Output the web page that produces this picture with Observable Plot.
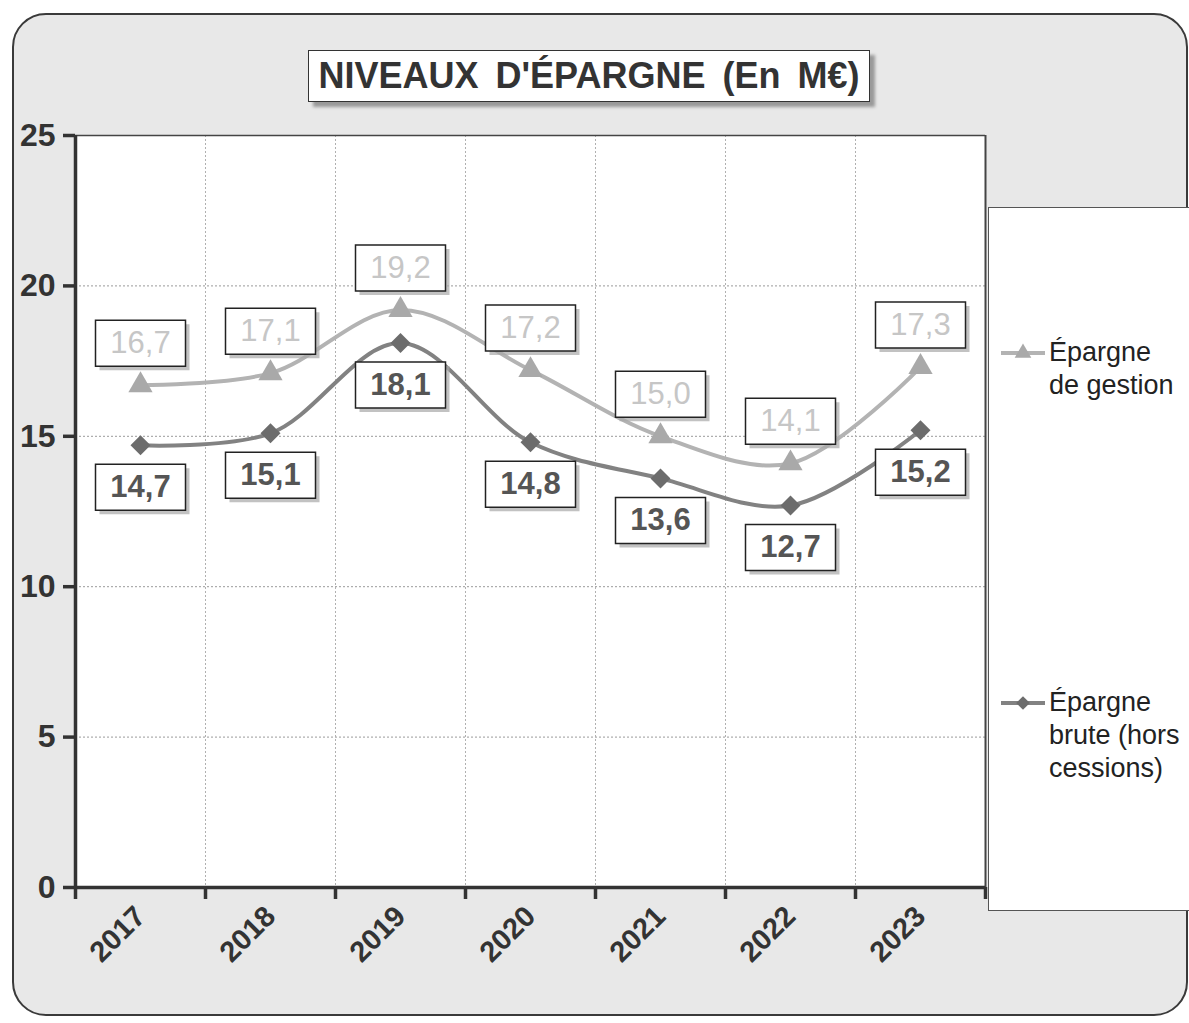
<!DOCTYPE html>
<html><head><meta charset="utf-8">
<script src="https://cdn.jsdelivr.net/npm/d3@7"></script>
<script src="https://cdn.jsdelivr.net/npm/@observablehq/plot@0.6"></script>
<style>
body{margin:0;background:#fff;font-family:"Liberation Sans",Arial,sans-serif;}
#wrap{position:relative;width:1189px;height:1023px;overflow:hidden;}
#bg{position:absolute;left:12px;top:13px;width:1172px;height:999px;border:2px solid #3a3a3a;border-radius:34px;background:#e8e8e8;}
#title{position:absolute;left:308px;top:50px;width:560px;height:50px;background:#fff;border:1.5px solid #333;box-shadow:5px 5px 3px #9a9a9a;font-weight:bold;font-size:36px;color:#333;display:flex;align-items:center;justify-content:center;word-spacing:7px;white-space:nowrap;}
#legend{position:absolute;left:988px;top:207px;width:230px;height:704px;background:#fff;border:1.5px solid #555;box-sizing:border-box;}
.entry{position:absolute;left:10px;display:flex;align-items:flex-start;}
.entry svg{flex:none;margin-top:0px;}
.entry .lab{font-size:27px;line-height:33px;color:#222;margin-left:2px;}
#chart{position:absolute;left:0;top:0;}
</style>
</head><body>
<div id="wrap">
  <div id="bg"></div>
  <div id="chart"></div>
  <div id="title"></div>
  <div id="legend"></div>
</div>
<script>
const years = ["2017","2018","2019","2020","2021","2022","2023"];
const gestion = [16.7, 17.1, 19.2, 17.2, 15.0, 14.1, 17.3];
const brute = [14.7, 15.1, 18.1, 14.8, 13.6, 12.7, 15.2];
const yTicks = [0, 5, 10, 15, 20, 25];
const titleText = "NIVEAUX D'ÉPARGNE (En M€)";
const seriesNames = [["Épargne", "de gestion"], ["Épargne", "brute (hors", "cessions)"]];
const colGestionLine = "#b3b3b3", colGestionDot = "#a9a9a9", colGestionText = "#c6c6c6";
const colBruteLine = "#828282", colBruteDot = "#6c6c6c", colBruteText = "#555";

const rowsG = years.map((y, i) => ({i, year: y, v: gestion[i]}));
const rowsB = years.map((y, i) => ({i, year: y, v: brute[i]}));
const bounds = d3.range(years.length + 1).map(k => k - 0.5);
const fmt = v => v.toFixed(1).replace(".", ",");

const boxSymbol = {draw(ctx) { ctx.rect(-45, -23, 90, 46); }};

function labels(rows, dy, color, weight) {
  return [
    Plot.dot(rows, {x: "i", y: "v", dy: dy + 4, dx: 4, symbol: boxSymbol, fill: "#a8a8a8", fillOpacity: 0.7}),
    Plot.dot(rows, {x: "i", y: "v", dy, symbol: boxSymbol, fill: "white", stroke: "#222", strokeWidth: 1.5}),
    Plot.text(rows, {x: "i", y: "v", dy, text: d => fmt(d.v), fontSize: 31, fill: color, fontWeight: weight})
  ];
}

const chart = Plot.plot({
  width: 1189, height: 1023,
  marginLeft: 75, marginRight: 204, marginTop: 135, marginBottom: 136,
  style: {background: "transparent", fontFamily: "'Liberation Sans', Arial, sans-serif", overflow: "visible"},
  x: {domain: [bounds[0], bounds[bounds.length - 1]], axis: null, label: null},
  y: {domain: [0, 25], axis: null, label: null},
  marks: [
    Plot.frame({fill: "white", stroke: null}),
    Plot.ruleY(yTicks.slice(1, -1), {stroke: "#9a9a9a", strokeDasharray: "2,2", strokeWidth: 1}),
    Plot.ruleX(bounds.slice(1, -1), {stroke: "#b0b0b0", strokeDasharray: "2,2", strokeWidth: 1}),
    Plot.ruleY([25], {stroke: "#444", strokeWidth: 1.5}),
    Plot.ruleX([bounds[bounds.length - 1]], {stroke: "#444", strokeWidth: 2}),
    Plot.axisY({ticks: yTicks, tickSize: 12, tickPadding: 8, fontSize: 32, fontWeight: "bold", color: "#333", strokeWidth: 3.5, tickFormat: d => String(d), label: null}),
    Plot.axisX({ticks: bounds, tickSize: 12, tickFormat: () => "", color: "#333", strokeWidth: 3.5, label: null}),
    Plot.axisX({ticks: d3.range(years.length), tickSize: 0, tickPadding: 24, tickRotate: -45, fontSize: 29, fontWeight: "bold", color: "#333", tickFormat: i => years[i], label: null}),
    Plot.ruleX([bounds[0]], {stroke: "#333", strokeWidth: 3.5}),
    Plot.ruleY([0], {stroke: "#333", strokeWidth: 3.5}),
    Plot.line(rowsG, {x: "i", y: "v", stroke: colGestionLine, strokeWidth: 4, curve: "catmull-rom"}),
    Plot.line(rowsB, {x: "i", y: "v", stroke: colBruteLine, strokeWidth: 4, curve: "catmull-rom"}),
    Plot.dot(rowsG, {x: "i", y: "v", symbol: "triangle", r: 9, fill: colGestionDot}),
    Plot.dot(rowsB, {x: "i", y: "v", symbol: "diamond2", r: 9, fill: colBruteDot}),
    ...labels(rowsG, -42, colGestionText, "normal"),
    ...labels(rowsB, 42, colBruteText, "bold")
  ]
});
document.getElementById("chart").appendChild(chart);
document.getElementById("title").textContent = titleText;

// legend
const leg = document.getElementById("legend");
const legendDefs = [
  {lines: seriesNames[0], line: colGestionLine, dot: colGestionDot, sym: d3.symbolTriangle, top: 128},
  {lines: seriesNames[1], line: colBruteLine, dot: colBruteDot, sym: d3.symbolDiamond2, top: 478}
];
legendDefs.forEach(d => {
  const e = document.createElement("div");
  e.className = "entry";
  e.style.top = d.top + "px";
  const svg = d3.create("svg").attr("width", 48).attr("height", 33);
  svg.append("line").attr("x1", 2).attr("x2", 46).attr("y1", 17).attr("y2", 17).attr("stroke", d.line).attr("stroke-width", 4);
  svg.append("path").attr("transform", "translate(24,17)").attr("d", d3.symbol(d.sym, 120)()).attr("fill", d.dot);
  e.appendChild(svg.node());
  const lab = document.createElement("div");
  lab.className = "lab";
  lab.innerHTML = d.lines.join("<br>");
  e.appendChild(lab);
  leg.appendChild(e);
});
</script>
</body></html>
